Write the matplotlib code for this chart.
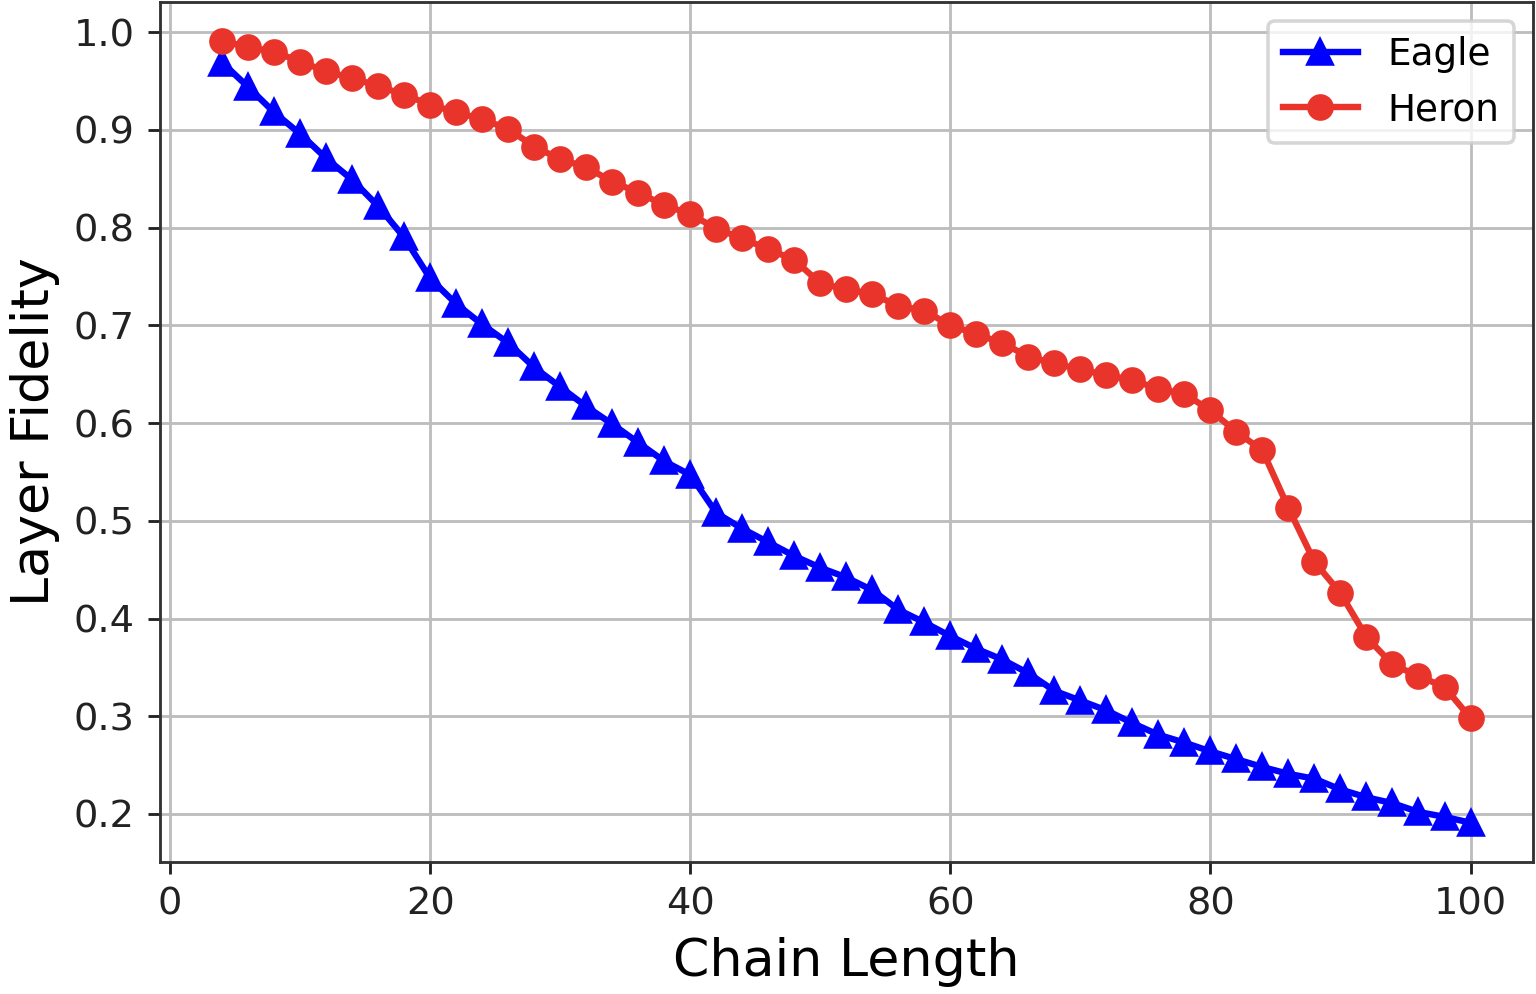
import matplotlib
matplotlib.use('Agg')
import matplotlib.pyplot as plt
import numpy as np

# chain lengths 4..100 step 2
chain_length = list(range(4, 101, 2))

eagle = [0.969, 0.944, 0.918, 0.896, 0.871, 0.849, 0.822, 0.790, 0.748, 0.722,
         0.701, 0.682, 0.657, 0.637, 0.617, 0.599, 0.580, 0.561, 0.547, 0.508,
         0.492, 0.478, 0.464, 0.452, 0.442, 0.429, 0.409, 0.396, 0.382, 0.369,
         0.358, 0.344, 0.326, 0.316, 0.306, 0.293, 0.281, 0.273, 0.264, 0.256,
         0.248, 0.241, 0.236, 0.225, 0.217, 0.211, 0.202, 0.197, 0.191]

heron = [0.991, 0.985, 0.980, 0.970, 0.960, 0.953, 0.945, 0.936, 0.926, 0.918,
         0.911, 0.901, 0.883, 0.870, 0.862, 0.847, 0.836, 0.823, 0.814, 0.799,
         0.789, 0.778, 0.767, 0.743, 0.737, 0.732, 0.720, 0.715, 0.700, 0.691,
         0.682, 0.668, 0.661, 0.655, 0.649, 0.644, 0.635, 0.630, 0.613, 0.591,
         0.572, 0.513, 0.458, 0.426, 0.381, 0.353, 0.341, 0.330, 0.298]

fig = plt.figure(figsize=(6, 994 / 256), dpi=256)
ax = fig.add_axes([0.104, 0.133, 0.894, 0.865])

ax.plot(chain_length, eagle, '^-', color='#0000ff', lw=1.8, ms=7, label='Eagle')
ax.plot(chain_length, heron, 'o-', color='#e8342a', lw=1.8, ms=6.5, label='Heron')

ax.set_xlabel('Chain Length', fontsize=14.7)
ax.set_ylabel('Layer Fidelity', fontsize=14.7)
ax.tick_params(labelsize=10.8, colors='#222222')
ax.set_xticks([0, 20, 40, 60, 80, 100])
ax.set_yticks(np.arange(0.2, 1.01, 0.1))
ax.grid(True, color='#bdbdbd', lw=0.8)
for s in ax.spines.values():
    s.set_color('#333333')
ax.legend(loc='upper right', fontsize=10.5)

plt.savefig('out.png', dpi=256)
